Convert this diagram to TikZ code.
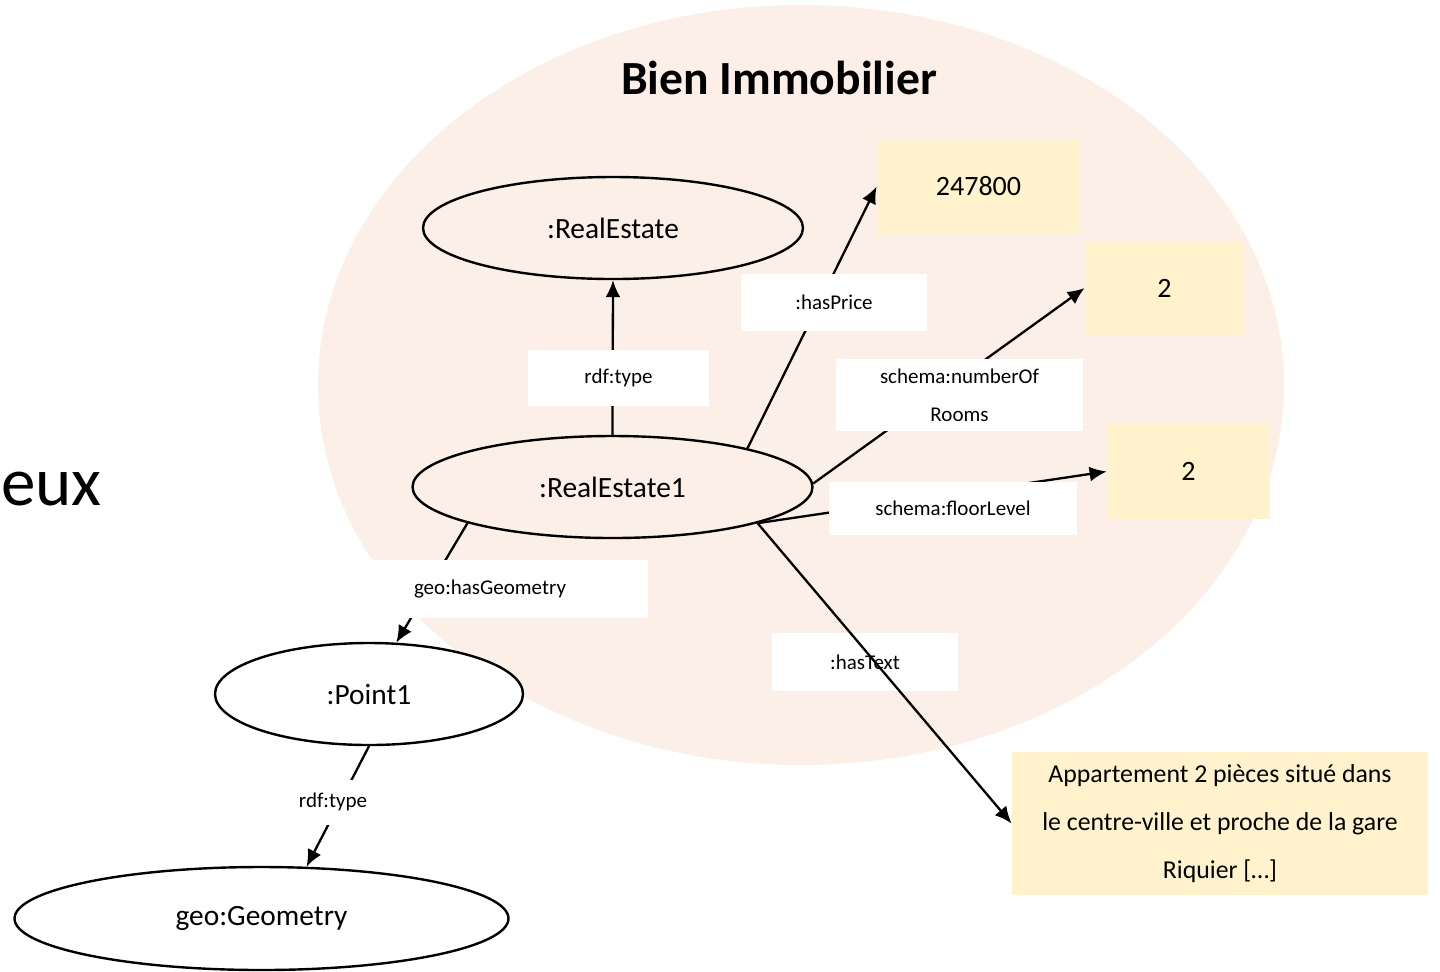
\documentclass[tikz,border=0pt]{standalone}
\usepackage{fontspec}
\setmainfont{Carlito}
\usetikzlibrary{arrows.meta,shapes.geometric}
\definecolor{blush}{RGB}{252,239,231}
\definecolor{cream}{RGB}{255,242,204}

\begin{document}
\begin{tikzpicture}[x=0.5pt,y=-0.5pt,
  cls/.style={ellipse,draw,line width=1.2pt,inner sep=0pt,
    font=\fontsize{14.7}{17}\selectfont},
  lit/.style={rectangle,fill=cream,inner sep=0pt,
    font=\fontsize{14}{17}\selectfont},
  prop/.style={rectangle,fill=white,inner sep=0pt,
    font=\fontsize{10.5}{13}\selectfont},
  rel/.style={line width=1.15pt,-{Latex[length=8.5pt,width=7.5pt]}},
]
\useasboundingbox (0,0) rectangle (1440,971);
\clip (0,0) rectangle (1440,971);

% background group
\fill[blush] (801,385) ellipse [x radius=241.5pt, y radius=190pt];
\node[anchor=base, font=\fontsize{23.8}{28}\selectfont\bfseries] (title) at (779,94) {Bien Immobilier};
\node[anchor=base east, inner sep=0pt, font=\fontsize{34.5}{40}\selectfont] (side) at (102,505) {eux};

% resources
\node[cls, minimum width=190pt, minimum height=51pt] (re) at (613,228) {:RealEstate};
\node[cls, minimum width=200pt, minimum height=51pt] (re1) at (612.5,487) {:RealEstate1};
\node[cls, fill=white, minimum width=154pt, minimum height=51pt] (p1) at (369,694) {:Point1};
\node[cls, fill=white, minimum width=247pt, minimum height=51.5pt] (geo) at (261.5,918.5) {geo:Geometry};

% literal values
\node[lit, minimum width=101.5pt, minimum height=46.5pt] (price) at (978.5,186.5) {247800};
\node[lit, minimum width=79.5pt, minimum height=47pt] (rooms) at (1164.5,288) {2};
\node[lit, minimum width=81.5pt, minimum height=47.5pt] (floor) at (1188.5,471.5) {2};
\node[lit, minimum width=208pt, minimum height=71.5pt, align=center,
      font=\fontsize{12.9}{24}\selectfont] (desc) at (1220,823.5)
  {Appartement 2 pièces situé dans\\le centre-ville et proche de la gare\\Riquier […]};

% the text property label sits under its arrow
\node[prop, minimum width=93pt, minimum height=29pt] (ltext) at (865,662) {:hasText};

% properties
\draw[rel] (re1.north) -- (re.south);
\draw[rel] (re1.16) -- (price.west);
\draw[rel] (re1.1) -- (rooms.west);
\draw[rel] (re1.-14) -- (floor.west);
\draw[rel] (re1.-14) -- (desc.west);
\draw[rel] (re1.194.4) -- (p1.62);
\draw[rel] (p1.south) -- (geo.49.8);

% property labels over their arrows
\node[prop, minimum width=90.5pt, minimum height=28pt] (ltype) at (618.5,378) {rdf:type};
\node[prop, minimum width=93pt, minimum height=28.5pt] (lprice) at (834,302.5) {:hasPrice};
\node[prop, minimum width=123.5pt, minimum height=36pt, align=center,
      font=\fontsize{10.5}{19}\selectfont] (lrooms) at (959.5,395) {schema:numberOf\\Rooms};
\node[prop, minimum width=124pt, minimum height=26.5pt] (lfloor) at (953,508.5) {schema:floorLevel};
\node[prop, minimum width=158pt, minimum height=29pt] (lgeom) at (490,589) {geo:hasGeometry};
\node[prop, minimum width=90pt, minimum height=22.5pt] (ltype2) at (333,802) {rdf:type};
\end{tikzpicture}
\end{document}
